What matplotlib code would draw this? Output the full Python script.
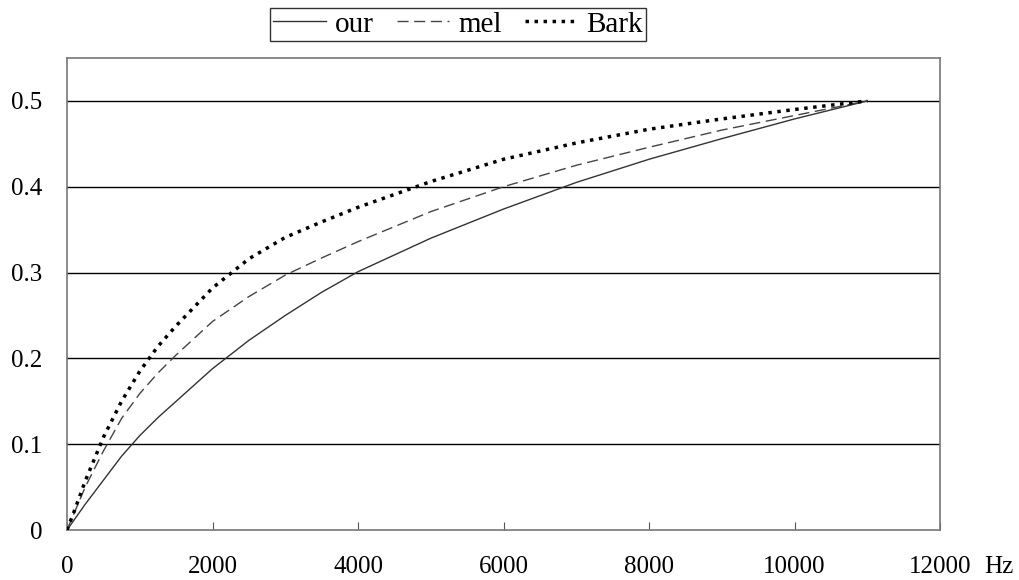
import numpy as np
import matplotlib
matplotlib.use("Agg")
import matplotlib.pyplot as plt

plt.rcParams['font.family'] = ['Liberation Serif', 'DejaVu Serif']

# frequency (Hz) and normalised warped value for each scale
freq = [0, 100, 250, 500, 750, 1000, 1250, 1500, 2000, 2500, 3000, 3500, 4000,
        5000, 6000, 7000, 8000, 9000, 10000, 11000]
our = [0, 0.012, 0.03, 0.058, 0.086, 0.11, 0.131, 0.15, 0.188, 0.221, 0.25, 0.277, 0.301,
       0.34, 0.374, 0.405, 0.432, 0.456, 0.479, 0.5]
mel = [0, 0.02, 0.05, 0.092, 0.13, 0.159, 0.183, 0.204, 0.243, 0.272, 0.297, 0.317, 0.336,
       0.371, 0.40, 0.425, 0.446, 0.466, 0.483, 0.5]
bark = [0, 0.022, 0.057, 0.108, 0.15, 0.185, 0.214, 0.238, 0.282, 0.316, 0.341, 0.359, 0.376,
        0.406, 0.432, 0.451, 0.467, 0.479, 0.49, 0.5]

xticks = [0, 2000, 4000, 6000, 8000, 10000, 12000]
xticklabels = ['0', '2000', '4000', '6000', '8000', '10000', '12000']
yticks = [0, 0.1, 0.2, 0.3, 0.4, 0.5]
yticklabels = ['0', '0.1', '0.2', '0.3', '0.4', '0.5']

fig = plt.figure(figsize=(10.2, 5.8), dpi=100)
ax = fig.add_axes([0.0657, 0.0862, 0.8559, 0.8138])

for y in yticks[1:]:
    ax.axhline(y, color='black', lw=1.0, zorder=1)

ax.plot(freq, our, color='#333333', lw=1.0, ls='-', label='our', zorder=3)
ax.plot(freq, mel, color='#444444', lw=1.0, ls=(0, (8, 4)), label='mel', zorder=3)
ax.plot(freq, bark, color='black', lw=2.5, ls=(0, (1, 1.6)), label='Bark', zorder=3)

ax.set_xlim(0, 12000)
ax.set_ylim(0, 0.55)
ax.set_xticks(xticks)
ax.set_xticklabels(xticklabels)
ax.set_yticks(yticks)
ax.set_yticklabels(yticklabels)
ax.tick_params(axis='x', direction='in', length=6, pad=19, labelsize=18, color='#555555')
ax.tick_params(axis='y', length=0, pad=18, labelsize=18)
for s in ax.spines.values():
    s.set_color('#777777')
    s.set_linewidth(1.2)

# unit label to the right of the last tick
ax.annotate('Hz', xy=(12000, 0), xycoords='data', xytext=(32, -19),
            textcoords='offset points', ha='left', va='top', fontsize=18)

leg = ax.legend(loc='lower center', bbox_to_anchor=(0.448, 1.036), ncol=3, frameon=True,
                fancybox=False, edgecolor='black', fontsize=21, handlelength=1.8,
                handletextpad=0.3, columnspacing=0.8, borderpad=0.12, borderaxespad=0)
leg.get_frame().set_linewidth(1.0)

fig.savefig('out.png', dpi=100)
